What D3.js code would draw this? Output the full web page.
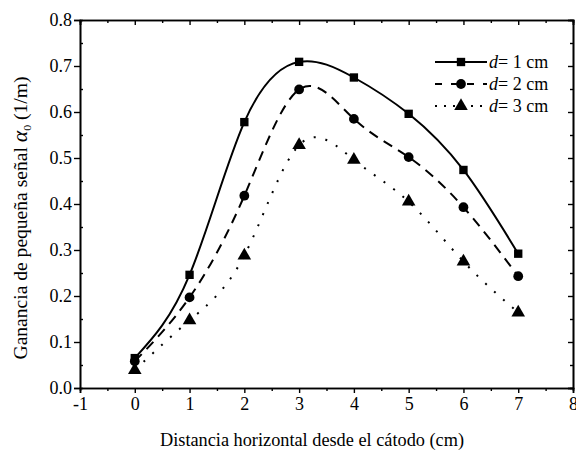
<!DOCTYPE html>
<html>
<head>
<meta charset="utf-8">
<script src="https://cdn.jsdelivr.net/npm/d3@7"></script>
<style>
  body { margin: 0; background: #fff; }
  svg text { font-family: "Liberation Serif", "Times New Roman", "DejaVu Serif", serif; }
</style>
</head>
<body>
<div id="chart"></div>
<script>
// distance from cathode (cm)
const distances = [0, 1, 2, 3, 4, 5, 6, 7];
const gainD1 = [0.065, 0.246, 0.578, 0.709, 0.675, 0.596, 0.474, 0.292];
const gainD2 = [0.058, 0.197, 0.418, 0.649, 0.585, 0.502, 0.393, 0.243];
const gainD3 = [0.039, 0.147, 0.288, 0.528, 0.496, 0.405, 0.275, 0.164];
const seriesNames = ["1", "2", "3"];
const xTicks = [-1, 0, 1, 2, 3, 4, 5, 6, 7, 8];
const yTicks = [0, 0.1, 0.2, 0.3, 0.4, 0.5, 0.6, 0.7, 0.8];

const W = 576, H = 456;
const margin = { top: 20, right: 3, bottom: 68, left: 80 };
const width = W - margin.left - margin.right;
const height = H - margin.top - margin.bottom;

const svg = d3.select("#chart").append("svg")
    .attr("width", W).attr("height", H);
const g = svg.append("g")
    .attr("transform", `translate(${margin.left},${margin.top})`);

const x = d3.scaleLinear().domain([-1, 8]).range([0, width]);
const y = d3.scaleLinear().domain([0, 0.8]).range([height, 0]);

const minorX = d3.range(-0.5, 8, 1);
const minorY = d3.range(0.05, 0.8, 0.1);

// axes: bottom/left ticks outward, top/right inward
function styleAxis(sel) {
    sel.select(".domain").attr("stroke", "#000").attr("stroke-width", 1.6);
    sel.selectAll(".tick line").attr("stroke", "#000").attr("stroke-width", 1.4);
    sel.selectAll(".tick text").attr("fill", "#000").style("font-size", "18px");
}

g.append("g").attr("transform", `translate(0,${height})`)
    .call(d3.axisBottom(x).tickValues(minorX).tickSize(3).tickFormat(""))
    .call(styleAxis);
g.append("g").attr("transform", `translate(0,${height})`)
    .call(d3.axisBottom(x).tickValues(xTicks).tickSize(5).tickPadding(4).tickFormat(d => String(d)))
    .call(styleAxis);

g.append("g")
    .call(d3.axisLeft(y).tickValues(minorY).tickSize(-3).tickFormat(""))
    .call(styleAxis);
g.append("g")
    .call(d3.axisLeft(y).tickValues(yTicks).tickSize(6).tickPadding(2).tickFormat(d3.format(".1f")))
    .call(styleAxis);

g.append("g")
    .call(d3.axisTop(x).tickValues(minorX).tickSize(-3).tickFormat(""))
    .call(styleAxis);
g.append("g")
    .call(d3.axisTop(x).tickValues(xTicks).tickSize(-5).tickFormat(""))
    .call(styleAxis);

g.append("g").attr("transform", `translate(${width},0)`)
    .call(d3.axisRight(y).tickValues(minorY).tickSize(-3).tickFormat(""))
    .call(styleAxis);
g.append("g").attr("transform", `translate(${width},0)`)
    .call(d3.axisRight(y).tickValues(yTicks).tickSize(-5).tickFormat(""))
    .call(styleAxis);

// axis titles
svg.append("text")
    .attr("x", 312).attr("y", 446)
    .attr("text-anchor", "middle")
    .attr("textLength", 304)
    .attr("lengthAdjust", "spacingAndGlyphs")
    .style("font-size", "18px")
    .text("Distancia horizontal desde el cátodo (cm)");

const yt = svg.append("text")
    .attr("transform", `translate(27,${218}) rotate(-90)`)
    .attr("text-anchor", "middle")
    .attr("textLength", 283)
    .attr("lengthAdjust", "spacingAndGlyphs")
    .style("font-size", "18px");
yt.append("tspan").text("Ganancia de pequeña señal ");
yt.append("tspan").style("font-style", "italic").style("font-size", "20px").text("α");
yt.append("tspan").attr("dy", 4).style("font-size", "11px").text("0");
yt.append("tspan").attr("dy", -4).text(" (1/m)");

// series
const series = [
    { name: seriesNames[0], values: gainD1, dash: null, shape: d3.symbolSquare, size: 70 },
    { name: seriesNames[1], values: gainD2, dash: "10,7", shape: d3.symbolCircle, size: 75 },
    { name: seriesNames[2], values: gainD3, dash: "2,10", shape: d3.symbolTriangle, size: 80 }
];

const line = d3.line()
    .x(d => x(d[0]))
    .y(d => y(d[1]))
    .curve(d3.curveNatural);

series.forEach(s => {
    const pts = distances.map((d, i) => [d, s.values[i]]);
    g.append("path")
        .datum(pts)
        .attr("fill", "none")
        .attr("stroke", "#000")
        .attr("stroke-width", 2)
        .attr("stroke-dasharray", s.dash)
        .attr("d", line);

    g.selectAll(null)
        .data(pts)
        .enter()
        .append("path")
        .attr("transform", d => `translate(${x(d[0])},${y(d[1])})`)
        .attr("d", d3.symbol().type(s.shape).size(s.size))
        .attr("fill", "#000");
});

// legend
const legend = svg.selectAll(".legend")
    .data(series)
    .enter()
    .append("g")
    .attr("class", "legend")
    .attr("transform", (d, i) => `translate(435,${62 + i * 22})`);

legend.append("line")
    .attr("x1", 0).attr("x2", 52)
    .attr("stroke", "#000").attr("stroke-width", 2)
    .attr("stroke-dasharray", d => d.dash === "10,7" ? "7,9" : (d.dash ? "2,7" : null));

legend.append("path")
    .attr("transform", "translate(26,0)")
    .attr("d", d => d3.symbol().type(d.shape).size(d.size)())
    .attr("fill", "#000");

const lt = legend.append("text")
    .attr("x", 54).attr("y", 6)
    .style("font-size", "18px");
lt.append("tspan").style("font-style", "italic").text("d");
lt.append("tspan").text(d => "= " + d.name + " cm");
</script>
</body>
</html>
